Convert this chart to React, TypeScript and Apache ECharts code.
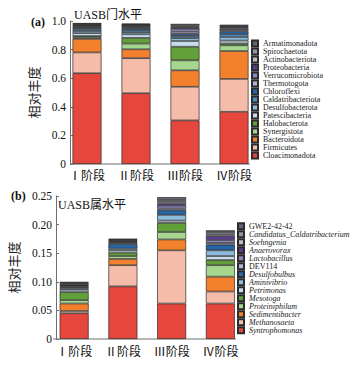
import React, { useEffect, useRef } from "react";
import * as echarts from "echarts";

const stages = ["Ⅰ阶段", "Ⅱ阶段", "Ⅲ阶段", "Ⅳ阶段"];

// Phylum level (bottom to top of stack)
const phylumNames = [
  "Cloacimonadota", "Firmicutes", "Bacteroidota", "Synergistota", "Halobacterota",
  "Patescibacteria", "Desulfobacterota", "Caldatribacteriota", "Chloroflexi", "Thermotogota",
  "Verrucomicrobiota", "Proteobacteria", "Actinobacteriota", "Spirochaetota", "Armatimonadota",
];
const phylumColors = [
  "#E5473D", "#F5BCAA", "#F2802D", "#A6D78E", "#62A03A",
  "#C6DBEB", "#8DBBDB", "#4A8FC4", "#2565A8", "#B5B4D8",
  "#8B86BF", "#5A3B92", "#BDBDBD", "#9296A6", "#5F6572",
];
const phylumValues = [
  [0.635, 0.495, 0.305, 0.365],
  [0.145, 0.245, 0.235, 0.23],
  [0.095, 0.062, 0.115, 0.195],
  [0.01, 0.04, 0.07, 0.04],
  [0.01, 0.04, 0.095, 0.013],
  [0.02, 0.025, 0.04, 0.02],
  [0.015, 0.015, 0.02, 0.025],
  [0.012, 0.015, 0.015, 0.02],
  [0.01, 0.012, 0.015, 0.02],
  [0.008, 0.006, 0.015, 0.01],
  [0.006, 0.006, 0.02, 0.01],
  [0.004, 0.008, 0.01, 0.008],
  [0.006, 0.003, 0.005, 0.005],
  [0.004, 0.004, 0.01, 0.005],
  [0.006, 0.006, 0.01, 0.008],
];

// Genus level (bottom to top of stack)
const genusNames = [
  "Syntrophomonas", "Methanosaeta", "Sedimentibacter", "Proteiniphilum", "Mesotoga",
  "Petrimonas", "Aminivibrio", "Desulfobulbus", "DEV114", "Lactobacillus",
  "Anaerovorax", "Soehngenia", "Candidatus_Caldatribacterium", "GWE2-42-42",
];
const genusColors = [
  "#E5473D", "#F5BCAA", "#F2802D", "#A6D78E", "#62A03A",
  "#C6DBEB", "#8DBBDB", "#2565A8", "#B5B4D8", "#8B86BF",
  "#5A3B92", "#BDBDBD", "#9296A6", "#5F6572",
];
const genusValues = [
  [0.045, 0.092, 0.062, 0.062],
  [0.004, 0.037, 0.093, 0.021],
  [0.013, 0.011, 0.019, 0.026],
  [0.006, 0.005, 0.013, 0.02],
  [0.014, 0.006, 0.016, 0.009],
  [0.004, 0.004, 0.004, 0.007],
  [0.003, 0.003, 0.01, 0.01],
  [0.002, 0.008, 0.008, 0.01],
  [0.002, 0.002, 0.003, 0.003],
  [0.001, 0.002, 0.005, 0.005],
  [0.001, 0.001, 0.004, 0.007],
  [0.002, 0.002, 0.003, 0.003],
  [0.001, 0.001, 0.003, 0.004],
  [0.002, 0.001, 0.005, 0.003],
];
const nonItalicGenus = ["GWE2-42-42", "DEV114"];

const yTicksA = [0, 0.2, 0.4, 0.6, 0.8, 1.0];
const yTicksB = [0, 0.05, 0.1, 0.15, 0.2, 0.25];

const SERIF = "'Liberation Serif', 'DejaVu Serif', 'Noto Sans CJK SC', serif";
const CJK = "'Liberation Serif', 'Noto Sans CJK SC', sans-serif";

export default function App() {
  const ref = useRef<HTMLDivElement>(null);
  useEffect(() => {
    if (!ref.current) return;
    const chart = echarts.init(ref.current, null, { renderer: "svg" });
    const axisColor = "#6f6f6f";

    const yAxisCommon = (ticks: number[], digits: number, offset: number, nameGap: number, gridIndex: number) => ({
      type: "value",
      gridIndex,
      min: ticks[0],
      max: ticks[ticks.length - 1],
      interval: ticks[1] - ticks[0],
      offset,
      name: "相对丰度",
      nameLocation: "middle",
      nameGap,
      nameTextStyle: { fontFamily: CJK, fontSize: 13, color: "#222" },
      axisLine: { show: true, lineStyle: { color: axisColor, width: 1 } },
      axisTick: { show: true, inside: true, length: 3, lineStyle: { color: axisColor } },
      splitLine: { show: false },
      axisLabel: {
        fontFamily: SERIF,
        fontSize: 11.5,
        color: "#111",
        margin: 4,
        formatter: (v: number) => (v === 0 ? "0" : v.toFixed(digits)),
      },
    });

    const xAxisCommon = (gridIndex: number, margin: number) => ({
      type: "category",
      gridIndex,
      data: stages,
      axisLine: { show: false },
      axisTick: { show: false },
      axisLabel: { fontFamily: CJK, fontSize: 12, color: "#111", margin },
    });

    const barStyle = (color: string) => ({
      color,
      borderColor: "#2b2b2b",
      borderWidth: 0.7,
    });

    const series: any[] = [];
    phylumNames.forEach((n, i) => {
      series.push({
        type: "bar",
        name: n,
        xAxisIndex: 0,
        yAxisIndex: 0,
        stack: "a",
        barWidth: 29,
        data: phylumValues[i],
        itemStyle: barStyle(phylumColors[i]),
      });
    });
    genusNames.forEach((n, i) => {
      series.push({
        type: "bar",
        name: n,
        xAxisIndex: 1,
        yAxisIndex: 1,
        stack: "b",
        barWidth: 29,
        data: genusValues[i],
        itemStyle: barStyle(genusColors[i]),
      });
    });

    const legendText = { fontFamily: SERIF, fontSize: 8, color: "#222", lineHeight: 6.7 };

    chart.setOption({
      animation: false,
      grid: [
        { left: 62.5, top: 21, width: 196, height: 143 },
        { left: 46.75, top: 196, width: 198, height: 143 },
      ],
      xAxis: [xAxisCommon(0, 6), xAxisCommon(1, 7)],
      yAxis: [
        yAxisCommon(yTicksA, 1, -7.5, 25, 0),
        yAxisCommon(yTicksB, 2, -6.25, 33, 1),
      ],
      legend: [
        {
          orient: "vertical",
          left: 251,
          top: 39.6,
          padding: 0,
          itemGap: 0,
          itemWidth: 6,
          itemHeight: 6,
          icon: "rect",
          data: [...phylumNames].reverse(),
          textStyle: legendText,
          selectedMode: false,
        },
        {
          orient: "vertical",
          left: 237,
          top: 222.3,
          padding: 0,
          itemGap: 0,
          itemWidth: 6,
          itemHeight: 6,
          icon: "rect",
          data: [...genusNames].reverse(),
          selectedMode: false,
          formatter: (name: string) => (nonItalicGenus.includes(name) ? name : `{i|${name}}`),
          textStyle: {
            ...legendText,
            rich: { i: { fontFamily: SERIF, fontSize: 8, fontStyle: "italic", color: "#222", lineHeight: 6.7 } },
          },
        },
      ],
      graphic: [
        { type: "line", shape: { x1: 70, y1: 164, x2: 250, y2: 164 }, style: { stroke: axisColor, lineWidth: 1 }, silent: true },
        { type: "line", shape: { x1: 53, y1: 339, x2: 236, y2: 339 }, style: { stroke: axisColor, lineWidth: 1 }, silent: true },
        { type: "text", left: 31, top: 16, style: { text: "(a)", fontFamily: SERIF, fontSize: 12, fontWeight: "bold", fill: "#111" } },
        { type: "text", left: 74, top: 9, style: { text: "UASB门水平", fontFamily: CJK, fontSize: 12, fill: "#111" } },
        { type: "text", left: 11, top: 190, style: { text: "(b)", fontFamily: SERIF, fontSize: 12, fontWeight: "bold", fill: "#111" } },
        { type: "text", left: 58, top: 199, style: { text: "UASB属水平", fontFamily: CJK, fontSize: 12, fill: "#111" } },
      ],
      series,
    });
    return () => chart.dispose();
  }, []);
  return (
    <div
      ref={ref}
      style={{ position: "fixed", left: 0, top: 0, width: 354, height: 381, background: "#fff" }}
    />
  );
}
